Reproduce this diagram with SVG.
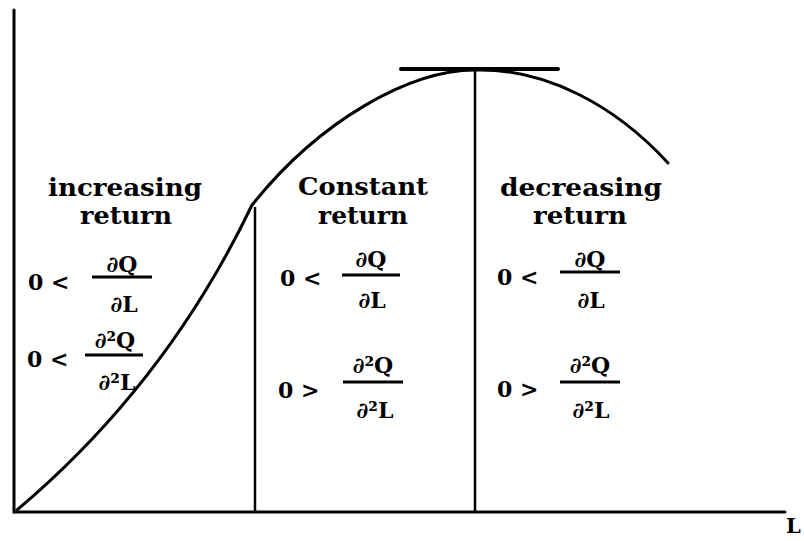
<svg xmlns="http://www.w3.org/2000/svg" width="804" height="541" viewBox="0 0 804 541">
<style>
.ax{stroke:#000;stroke-width:3;fill:none;stroke-linecap:round}
.cv{stroke:#000;stroke-width:3;fill:none;stroke-linecap:round;stroke-linejoin:round}
.vl{stroke:#000;stroke-width:2.5;fill:none}
.fr{stroke:#000;stroke-width:3}
.t{font-family:"DejaVu Serif","Liberation Serif",serif;font-weight:bold;font-size:25px;fill:#000;text-anchor:middle}
.f{font-family:"DejaVu Serif","Liberation Serif",serif;font-weight:bold;font-size:22px;fill:#000;text-anchor:middle}
.r{font-family:"DejaVu Serif","Liberation Serif",serif;font-weight:bold;font-size:22px;fill:#000}
</style>
<rect width="804" height="541" fill="#fff"/>
<g id="connectors">
<path class="ax" d="M14,10 L14,512 L785,512"/>
<path class="cv" d="M17,510 C100,440 185,345 252,205 C320,120 410,70 475,70 C545,68 615,105 668,163"/>
<line class="vl" x1="255" y1="207" x2="255" y2="512"/>
<line class="vl" x1="475" y1="70" x2="475" y2="512"/>
<line class="ax" x1="401" y1="69" x2="558" y2="69" style="stroke-width:4"/>
</g>
<g id="axis-label"><text x="786" y="533" class="r" style="font-size:21px">L</text></g>
<g id="increasing">
<text x="125" y="196" class="t" textLength="154" lengthAdjust="spacingAndGlyphs">increasing</text>
<text x="126" y="224" class="t" textLength="92" lengthAdjust="spacingAndGlyphs">return</text>
<text x="28" y="290" class="r">0 &lt;</text>
<text x="122" y="272" class="f">∂Q</text>
<line class="fr" x1="92" y1="277" x2="152" y2="277"/>
<text x="124" y="312" class="f">∂L</text>
<text x="27" y="367" class="r">0 &lt;</text>
<text x="115" y="348" class="f">∂²Q</text>
<line class="fr" x1="85" y1="355" x2="143" y2="355"/>
<text x="117" y="390" class="f">∂²L</text>
</g>
<g id="constant">
<text x="363" y="195" class="t" textLength="130" lengthAdjust="spacingAndGlyphs">Constant</text>
<text x="363" y="224" class="t" textLength="90" lengthAdjust="spacingAndGlyphs">return</text>
<text x="280" y="286" class="r">0 &lt;</text>
<text x="371" y="267" class="f">∂Q</text>
<line class="fr" x1="342" y1="275" x2="400" y2="275"/>
<text x="372" y="308" class="f">∂L</text>
<text x="278" y="398" class="r">0 &gt;</text>
<text x="373" y="373" class="f">∂²Q</text>
<line class="fr" x1="343" y1="382" x2="403" y2="382"/>
<text x="375" y="418" class="f">∂²L</text>
</g>
<g id="decreasing">
<text x="581" y="196" class="t" textLength="162" lengthAdjust="spacingAndGlyphs">decreasing</text>
<text x="580" y="224" class="t" textLength="94" lengthAdjust="spacingAndGlyphs">return</text>
<text x="497" y="285" class="r">0 &lt;</text>
<text x="590" y="267" class="f">∂Q</text>
<line class="fr" x1="560" y1="272" x2="620" y2="272"/>
<text x="591" y="308" class="f">∂L</text>
<text x="497" y="397" class="r">0 &gt;</text>
<text x="590" y="373" class="f">∂²Q</text>
<line class="fr" x1="560" y1="382" x2="620" y2="382"/>
<text x="591" y="418" class="f">∂²L</text>
</g>
</svg>
